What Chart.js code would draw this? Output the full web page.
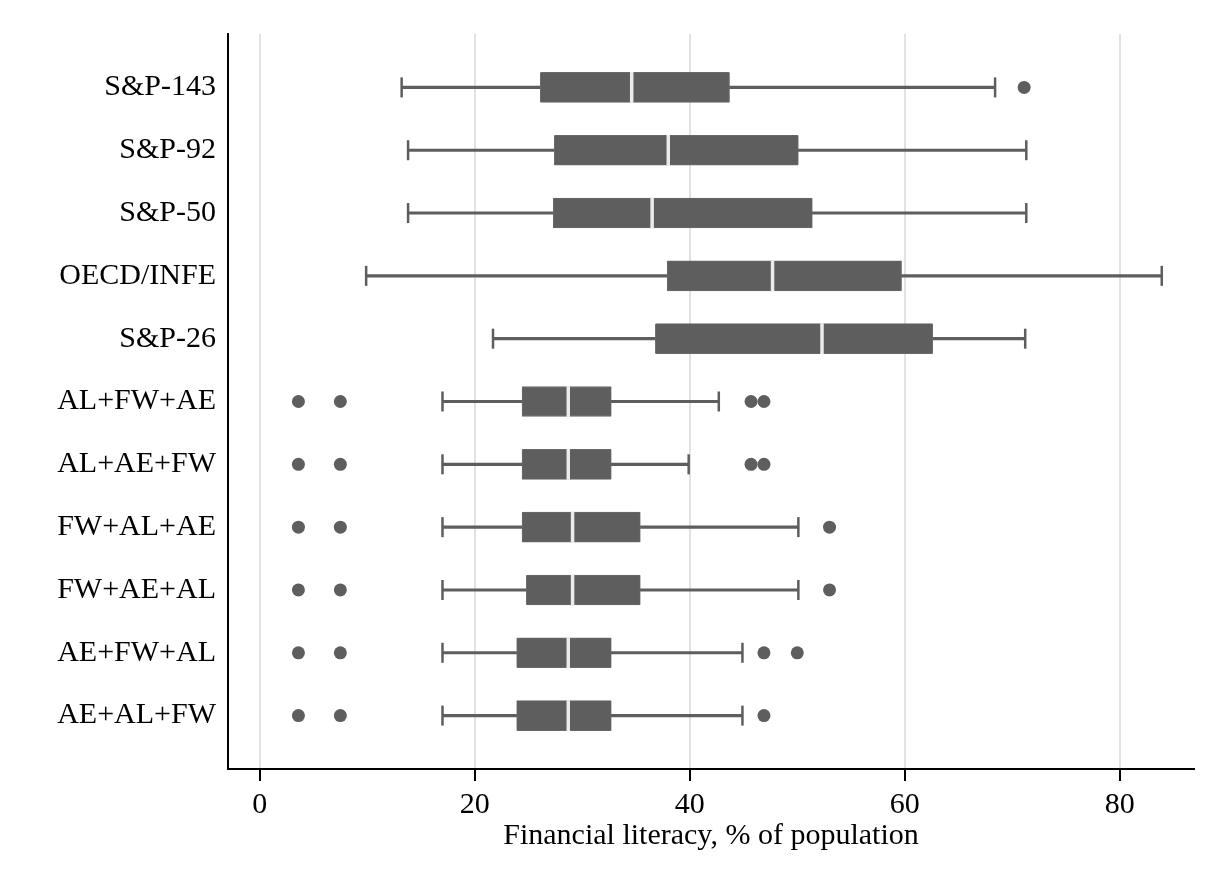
<!DOCTYPE html>
<html lang="en">
<head>
    <meta charset="UTF-8">
    <title>Financial literacy box plot</title>
    <script src="https://cdn.jsdelivr.net/npm/chart.js"></script>
    <style>
        body {
            margin: 0;
            background-color: #ffffff;
        }
        .chart-wrapper {
            width: 1218px;
            height: 885px;
        }
    </style>
</head>
<body>
    <div class="chart-wrapper">
        <canvas id="boxChart"></canvas>
    </div>
    <script>
        // rows from top to bottom
        const rows = ['S&P-143', 'S&P-92', 'S&P-50', 'OECD/INFE', 'S&P-26',
            'AL+FW+AE', 'AL+AE+FW', 'FW+AL+AE', 'FW+AE+AL', 'AE+FW+AL', 'AE+AL+FW'];
        const whiskerLow  = [13.2, 13.8, 13.8, 9.9, 21.7, 17.0, 17.0, 17.0, 17.0, 17.0, 17.0];
        const q1          = [26.1, 27.4, 27.3, 37.9, 36.8, 24.4, 24.4, 24.4, 24.8, 23.9, 23.9];
        const median      = [34.6, 38.0, 36.5, 47.7, 52.3, 28.7, 28.7, 29.1, 29.1, 28.7, 28.7];
        const q3          = [43.7, 50.1, 51.4, 59.7, 62.6, 32.7, 32.7, 35.4, 35.4, 32.7, 32.7];
        const whiskerHigh = [68.4, 71.3, 71.3, 83.9, 71.2, 42.7, 39.9, 50.1, 50.1, 44.9, 44.9];
        const outliers = [
            [71.1], [], [], [], [],
            [3.6, 7.5, 45.7, 46.9],
            [3.6, 7.5, 45.7, 46.9],
            [3.6, 7.5, 53.0],
            [3.6, 7.5, 53.0],
            [3.6, 7.5, 46.9, 50.0],
            [3.6, 7.5, 46.9]
        ];
        const xTicks = [0, 20, 40, 60, 80];

        const boxColor = '#5e5e5e';
        const serif = 'Liberation Serif, Times New Roman, serif';

        const whiskerData = rows.map((r, i) => ({ x: [whiskerLow[i], whiskerHigh[i]], y: i + 1 }));
        const boxData = rows.map((r, i) => ({ x: [q1[i], q3[i]], y: i + 1 }));
        const medianData = rows.map((r, i) => ({ x: median[i], y: i + 1 }));
        const capData = [];
        rows.forEach((r, i) => {
            capData.push({ x: whiskerLow[i], y: i + 1 });
            capData.push({ x: whiskerHigh[i], y: i + 1 });
        });
        const outlierData = [];
        outliers.forEach((list, i) => {
            list.forEach(v => outlierData.push({ x: v, y: i + 1 }));
        });

        new Chart(document.getElementById('boxChart'), {
            type: 'bar',
            data: {
                datasets: [
                    {
                        label: 'whisker',
                        data: whiskerData,
                        grouped: false,
                        barThickness: 2.5,
                        backgroundColor: boxColor,
                        order: 5
                    },
                    {
                        label: 'box',
                        data: boxData,
                        grouped: false,
                        barThickness: 30,
                        backgroundColor: boxColor,
                        borderColor: '#6a6a6a',
                        borderWidth: 1,
                        borderSkipped: false,
                        borderRadius: 1,
                        order: 4
                    },
                    {
                        type: 'scatter',
                        label: 'caps',
                        data: capData,
                        pointStyle: 'line',
                        rotation: 90,
                        pointRadius: 10,
                        borderColor: boxColor,
                        borderWidth: 2.5,
                        order: 3
                    },
                    {
                        type: 'scatter',
                        label: 'outliers',
                        data: outlierData,
                        pointRadius: 6.5,
                        backgroundColor: boxColor,
                        borderWidth: 0,
                        order: 2
                    },
                    {
                        type: 'scatter',
                        label: 'median',
                        data: medianData,
                        pointStyle: 'line',
                        rotation: 90,
                        pointRadius: 15.5,
                        borderColor: '#ebebeb',
                        borderWidth: 3.5,
                        order: 1
                    }
                ]
            },
            options: {
                indexAxis: 'y',
                responsive: true,
                maintainAspectRatio: false,
                animation: false,
                layout: {
                    padding: { top: 34, right: 24, left: 0, bottom: 0 }
                },
                plugins: {
                    legend: { display: false },
                    tooltip: { enabled: false }
                },
                scales: {
                    x: {
                        type: 'linear',
                        position: 'bottom',
                        offset: false,
                        min: -2.95,
                        max: 86.9,
                        afterBuildTicks: (scale) => {
                            scale.ticks = xTicks.map(v => ({ value: v }));
                        },
                        afterFit: (scale) => {
                            scale.height = 116;
                        },
                        grid: {
                            offset: false,
                            color: '#e2e2e2',
                            lineWidth: 2,
                            tickColor: '#000000',
                            tickWidth: 2,
                            tickLength: 12
                        },
                        border: { display: true, color: '#000000', width: 2 },
                        ticks: {
                            padding: 6,
                            color: '#000000',
                            font: { family: serif, size: 30 }
                        },
                        title: {
                            display: true,
                            text: 'Financial literacy, % of population',
                            color: '#000000',
                            font: { family: serif, size: 30 },
                            padding: { top: 0, bottom: 31 }
                        }
                    },
                    y: {
                        type: 'linear',
                        position: 'left',
                        offset: false,
                        reverse: true,
                        min: 0.15,
                        max: 11.85,
                        afterBuildTicks: (scale) => {
                            scale.ticks = rows.map((r, i) => ({ value: i + 1 }));
                        },
                        afterFit: (scale) => {
                            scale.width = 228;
                        },
                        grid: { display: false, drawTicks: false, offset: false },
                        border: { display: true, color: '#000000', width: 2 },
                        ticks: {
                            autoSkip: false,
                            padding: 12,
                            color: '#000000',
                            font: { family: serif, size: 30 },
                            callback: (value) => rows[value - 1]
                        }
                    }
                }
            }
        });
    </script>
</body>
</html>
